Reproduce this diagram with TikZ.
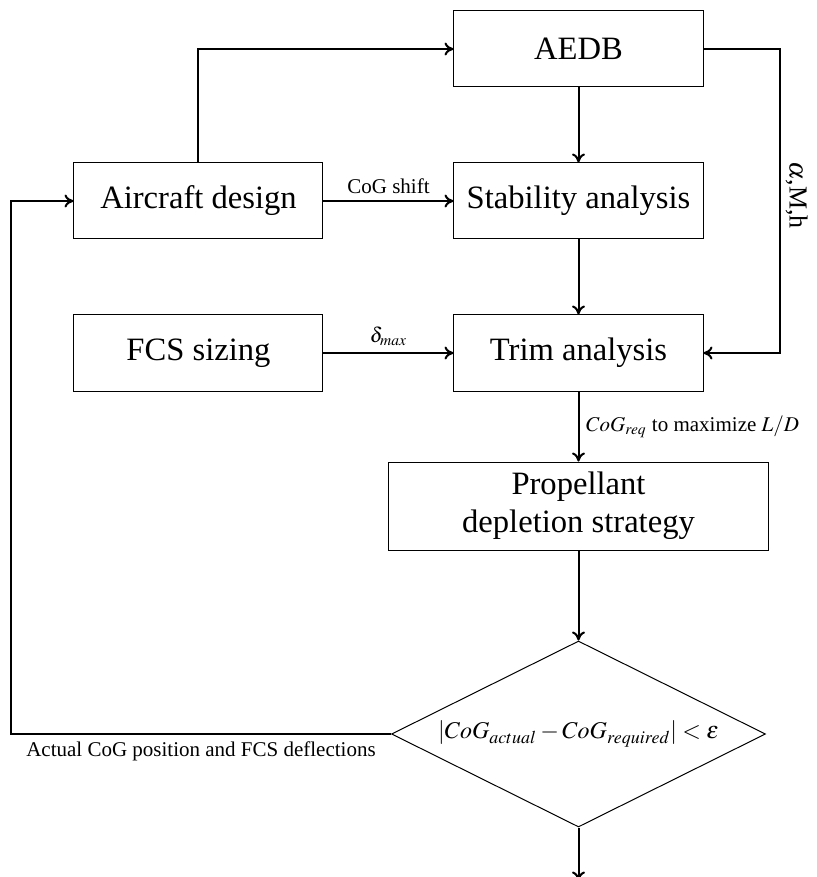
\documentclass[tikz,border=0pt]{standalone}
\usepackage{amsmath}
\usepackage{mathptmx}
\usepackage{fontspec}
\setmainfont{Liberation Serif}
\usepackage{tikz}
\usetikzlibrary{positioning}
\usetikzlibrary{arrows.meta,shapes.geometric}
\tikzset{
    every picture/.style={>={Computer Modern Rightarrow[length=4.5pt,width=6.5pt]},node distance=2cm},
}

\begin{document}
\begin{tikzpicture}[block/.style={draw,line width=0.5pt,minimum width=124.5pt,minimum height=38pt,font=\fontsize{16.3}{19}\selectfont},
decision/.style={diamond,draw,line width=0.5pt,aspect=2,inner sep=0pt,minimum width=187pt,minimum height=93pt,font=\fontsize{12}{14}\selectfont},
flow/.style={->,line width=1pt},
lbl/.style={font=\fontsize{10.5}{12}\selectfont}]
\useasboundingbox (-289.25pt,24.5pt) rectangle (119.25pt,-414pt);

\node[block] (aedb) at (0,0) {AEDB};
\node[block,below=37.5pt of aedb] (stab) {Stability analysis};
\node[block,below=37.5pt of stab] (trim) {Trim analysis};
\node[block,left=65pt of stab] (aircraft) {Aircraft design};
\node[block,left=65pt of trim] (fcs) {FCS sizing};
\node[block,align=center,minimum width=189.5pt,minimum height=44pt,below=35pt of trim] (prop) {Propellant\\depletion strategy};
\node[decision,below=45pt of prop] (check) {$|CoG_{actual}-CoG_{required}|<\varepsilon$};

\coordinate[right=38pt of aedb.east] (aedbout);
\coordinate[left=190pt of check.west] (fbcorner);
\coordinate[below=26.5pt of check.south] (done);

\draw[flow] (aircraft.north) |- (aedb.west);
\draw[flow] (aedb) -- (stab);
\draw[flow] (aircraft) -- node[lbl,above]{CoG shift} (stab);
\draw[flow] (aedb.east) -- (aedbout) |- node[pos=0.24,anchor=south,rotate=-90,inner sep=2.5pt,font=\fontsize{13}{15}\selectfont]{$\alpha$,M,h} (trim.east);
\draw[flow] (stab) -- (trim);
\draw[flow] (fcs) -- node[lbl,above]{$\delta_{max}$} (trim);
\draw[flow] (trim) -- node[lbl,right]{$CoG_{req}$ to maximize $L/D$} (prop);
\draw[flow] (prop) -- (check);
\draw[flow] (check.west) -- node[lbl,below]{Actual CoG position and FCS deflections} (fbcorner) |- (aircraft.west);
\draw[flow] (check) -- (done);
\end{tikzpicture}
\end{document}
